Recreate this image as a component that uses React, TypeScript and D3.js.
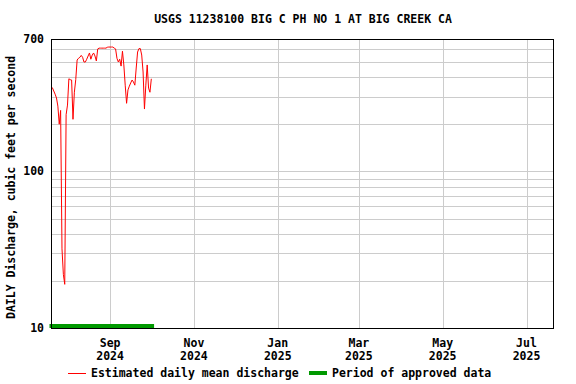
import React from "react";
import * as d3 from "d3";

const TITLE = "USGS 11238100 BIG C PH NO 1 AT BIG CREEK CA";
const Y_LABEL = "DAILY Discharge, cubic feet per second";
const START_DATE = "2024-07-20";
const DOMAIN_END = "2025-07-21";
const APPROVED_START = "2024-07-20";
const APPROVED_END = "2024-10-03";

// Daily mean discharge, one value per day from START_DATE
const discharge = [
  345, 342, 326, 311, 294, 261, 200, 245, 32, 22,
  19, 230, 265, 390, 385, 383, 215, 320, 385, 514,
  527, 535, 550, 535, 499, 499, 520, 545, 570, 520,
  553, 570, 545, 507, 605, 612, 612, 612, 612, 612,
  612, 620, 622, 622, 622, 622, 612, 605, 527, 499,
  520, 470, 585, 478, 355, 272, 331, 350, 367, 383,
  372, 355, 457, 578, 608, 608, 553, 431, 250, 355,
  478, 340, 320, 390,
];

const yTickValues = [10, 100, 700];
const yGridValues = [20, 30, 40, 50, 60, 70, 80, 90, 100, 200, 300, 400, 500, 600];
const xTickDates = ["2024-09-01", "2024-11-01", "2025-01-01", "2025-03-01", "2025-05-01", "2025-07-01"];
const xTickMonths = ["Sep", "Nov", "Jan", "Mar", "May", "Jul"];
const xTickYears = ["2024", "2024", "2025", "2025", "2025", "2025"];

const legendLabels = ["Estimated daily mean discharge", "Period of approved data"];

const W = 576;
const H = 384;
const M = { left: 51, right: 554, top: 39, bottom: 328 };
const FONT = "'DejaVu Sans Mono', monospace";
const FS = 11.5;

const parse = d3.utcParse("%Y-%m-%d");

export default function App() {
  const start = parse(START_DATE)!;
  const x = d3.scaleUtc().domain([start, parse(DOMAIN_END)!]).range([M.left, M.right]);
  const y = d3.scaleLog().domain([10, 700]).range([M.bottom, M.top]);

  const pts = discharge.map((v, i) => ({ date: d3.utcDay.offset(start, i), v }));
  const line = d3
    .line<{ date: Date; v: number }>()
    .x((d) => x(d.date))
    .y((d) => y(d.v));

  const ax0 = x(parse(APPROVED_START)!) - 1.5;
  const ax1 = x(parse(APPROVED_END)!);

  return (
    <svg
      width={W}
      height={H}
      style={{ position: "absolute", left: 0, top: 0, background: "#fff" }}
      fontFamily={FONT}
      fontWeight="bold"
      fontSize={FS}
    >
      <rect x={0} y={0} width={W} height={H} fill="#fff" />
      <text x={(M.left + M.right) / 2 + 0.5} y={23} textAnchor="middle">
        {TITLE}
      </text>
      {/* horizontal grid */}
      {yGridValues.map((v) => (
        <line
          key={"g" + v}
          x1={M.left}
          x2={M.right}
          y1={Math.round(y(v)) + 0.5}
          y2={Math.round(y(v)) + 0.5}
          stroke="#cccccc"
          strokeWidth={1}
        />
      ))}
      {/* vertical grid */}
      {xTickDates.map((s) => {
        const xx = Math.round(x(parse(s)!)) + 0.5;
        return (
          <line key={"v" + s} x1={xx} x2={xx} y1={M.top} y2={M.bottom} stroke="#cccccc" strokeWidth={1} />
        );
      })}
      {/* data line */}
      <path d={line(pts) || ""} fill="none" stroke="#ff0000" strokeWidth={1} />
      {/* approved bar */}
      <rect x={ax0} y={M.bottom - 4} width={ax1 - ax0} height={4} fill="#009900" />
      {/* frame */}
      <rect
        x={M.left + 0.5}
        y={M.top + 0.5}
        width={M.right - M.left - 1}
        height={M.bottom - M.top}
        fill="none"
        stroke="#000"
        strokeWidth={1}
      />
      {/* y tick labels */}
      {yTickValues.map((v) => (
        <text key={"yt" + v} x={44} y={y(v) + 4} textAnchor="end">
          {v}
        </text>
      ))}
      {/* x tick labels */}
      {xTickDates.map((s, i) => {
        const xx = x(parse(s)!);
        return (
          <g key={"xt" + s}>
            <text x={xx} y={347} textAnchor="middle">
              {xTickMonths[i]}
            </text>
            <text x={xx} y={360} textAnchor="middle">
              {xTickYears[i]}
            </text>
          </g>
        );
      })}
      {/* y axis title */}
      <text transform={`translate(15,187.5) rotate(-90)`} textAnchor="middle">
        {Y_LABEL}
      </text>
      {/* legend */}
      <line x1={68} x2={86} y1={373.5} y2={373.5} stroke="#ff0000" strokeWidth={1} />
      <text x={91} y={377}>
        {legendLabels[0]}
      </text>
      <rect x={309} y={371} width={18} height={4} fill="#009900" />
      <text x={332} y={377}>
        {legendLabels[1]}
      </text>
    </svg>
  );
}
